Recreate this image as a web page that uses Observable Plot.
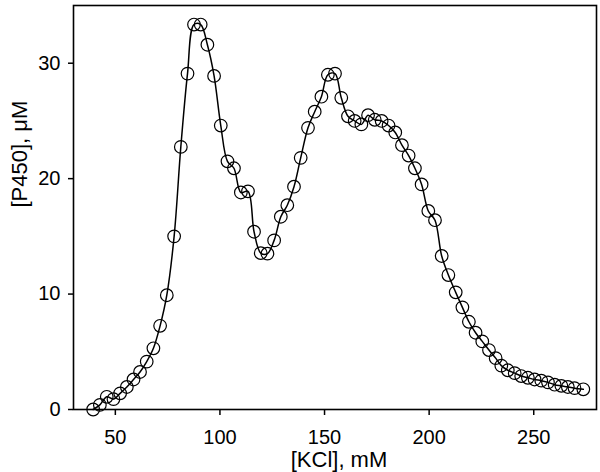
<!DOCTYPE html>
<html><head><meta charset="utf-8">
<script src="https://cdn.jsdelivr.net/npm/d3@7"></script>
<script src="https://cdn.jsdelivr.net/npm/@observablehq/plot@0.6"></script>
<style>body{margin:0;background:#fff}</style>
</head><body><div id="chart"></div>
<script>
const kcl = [39.4, 42.6, 45.9, 49.1, 52.3, 55.5, 58.7, 61.8, 65.0, 68.2, 71.4, 74.6, 78.1, 81.3, 84.5, 87.6, 90.8, 94.0, 97.2, 100.4,
  103.6, 106.7, 110.0, 113.4, 116.3, 119.5, 122.7, 125.9, 129.1, 132.2, 135.4, 138.6, 142.1, 145.3, 148.5, 151.6, 155.0, 158.0, 161.2, 164.4,
  167.6, 170.8, 174.0, 177.3, 180.6, 183.8, 187.0, 190.2, 193.2, 196.4, 199.6, 202.8, 206.0, 209.2, 212.7, 215.9, 219.0, 222.2, 225.4, 228.6,
  231.8, 234.5, 237.6, 240.9, 244.0, 247.2, 250.4, 253.6, 256.8, 260.0, 263.2, 266.3, 269.5, 273.7];
const p450 = [0.0, 0.4, 1.1, 0.9, 1.4, 1.95, 2.6, 3.25, 4.15, 5.3, 7.25, 9.9, 15.0, 22.75, 29.1, 33.35, 33.35, 31.6, 28.9, 24.6,
  21.5, 20.9, 18.8, 18.9, 15.4, 13.55, 13.5, 14.65, 16.7, 17.7, 19.3, 21.8, 24.4, 25.8, 27.1, 29.0, 29.1, 27.0, 25.4, 25.0,
  24.7, 25.5, 25.1, 25.0, 24.6, 24.0, 22.9, 22.0, 20.9, 19.5, 17.2, 16.4, 13.3, 11.65, 10.15, 8.85, 7.6, 6.65, 5.9, 5.15,
  4.45, 3.8, 3.4, 3.15, 2.9, 2.75, 2.6, 2.5, 2.35, 2.15, 2.05, 1.95, 1.85, 1.75];
const xTicks = [50, 100, 150, 200, 250];
const yTicks = [0, 10, 20, 30];
const xLabel = "[KCl], mM";
const yLabel = "[P450], μM";

const data = kcl.map((x, i) => ({x, y: p450[i]}));

const chart = Plot.plot({
  width: 600, height: 472,
  marginTop: 5, marginRight: 4, marginBottom: 63, marginLeft: 73,
  style: {fontFamily: '"Liberation Sans", Arial, sans-serif', background: "#fff", color: "#000"},
  x: {domain: [30, 280], label: null},
  y: {domain: [0, 35], label: null},
  marks: [
    Plot.frame({stroke: "#000", strokeWidth: 1.6}),
    Plot.axisX(xTicks, {tickSize: 6, tickPadding: 14, fontSize: 20, strokeWidth: 1.5, label: null}),
    Plot.axisY(yTicks, {tickSize: 5, tickPadding: 8, fontSize: 20, strokeWidth: 1.5, label: null}),
    Plot.line(data, {x: "x", y: "y", curve: "catmull-rom", stroke: "#000", strokeWidth: 1.5}),
    Plot.dot(data, {x: "x", y: "y", r: 6.3, stroke: "#000", strokeWidth: 1.2, fill: "none"}),
    Plot.text([xLabel], {frameAnchor: "bottom", dy: 57, dx: 4, fontSize: 22, text: d => d}),
    Plot.text([yLabel], {frameAnchor: "left", dx: -54, rotate: -90, fontSize: 22, text: d => d})
  ]
});
document.getElementById("chart").append(chart);
</script>
</body></html>
